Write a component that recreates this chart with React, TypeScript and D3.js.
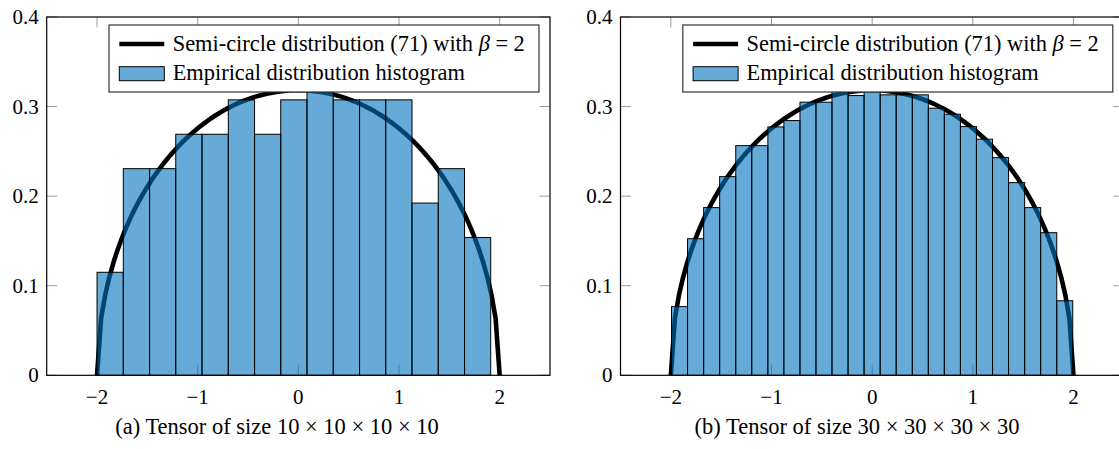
import React from "react";
import * as d3 from "d3";

// ---------- data ----------
const xTicks = [-2, -1, 0, 1, 2];
const yTicks = [0, 0.1, 0.2, 0.3, 0.4];

// left panel (10x10x10x10): 15 bins
const leftBinEdges = [-2.0, -1.739, -1.478, -1.218, -0.957, -0.696, -0.435, -0.175, 0.086, 0.347, 0.608, 0.868, 1.129, 1.39, 1.651, 1.911];
const leftHeights = [0.115, 0.2307, 0.2307, 0.2691, 0.2691, 0.3075, 0.2691, 0.3075, 0.346, 0.3075, 0.3075, 0.3075, 0.1923, 0.2307, 0.1538];

// right panel (30x30x30x30): 25 bins
const rightBinEdges = [-1.993, -1.834, -1.674, -1.515, -1.355, -1.196, -1.036, -0.877, -0.717, -0.558, -0.399, -0.239, -0.08, 0.08, 0.239, 0.399, 0.558, 0.717, 0.877, 1.036, 1.196, 1.355, 1.515, 1.674, 1.834, 1.993];
const rightHeights = [0.0767, 0.1525, 0.1872, 0.2218, 0.2564, 0.2564, 0.2773, 0.2844, 0.3049, 0.3049, 0.318, 0.3123, 0.318, 0.3131, 0.3131, 0.3131, 0.2982, 0.2915, 0.2777, 0.2636, 0.243, 0.2151, 0.1872, 0.1592, 0.0832];

const legendLabels = ["Semi-circle distribution (71) with ", "Empirical distribution histogram"];
const captions = ["(a) Tensor of size 10 \u00d7 10 \u00d7 10 \u00d7 10", "(b) Tensor of size 30 \u00d7 30 \u00d7 30 \u00d7 30"];

// semicircle law with beta = 2, sampled at 100 points in [-2, 2]
const curveSamples = 100;
const semicircle = d3.range(curveSamples).map((i) => {
  const x = -2 + (4 * i) / (curveSamples - 1);
  return [x, Math.sqrt(Math.max(0, 4 - x * x)) / (2 * Math.PI)] as [number, number];
});

// ---------- layout ----------
const W = 1119;
const H = 449;
const TOP = 17;
const BOTTOM = 375.3;
const FONT = "Liberation Serif, Tinos, Times New Roman, Times, DejaVu Serif, serif";
const BAR_FILL = "#0072BD";

function Panel({ x0, x1, edges, heights, caption, captionX }: any) {
  const x = d3.scaleLinear().domain([-2.5, 2.5]).range([x0, x1]);
  const y = d3.scaleLinear().domain([0, 0.4]).range([BOTTOM, TOP]);
  const line = d3.line<[number, number]>().x((d) => x(d[0])).y((d) => y(d[1]));
  const tl = 10.5;
  const legX = x1 - 11 - 430;
  const legY = TOP + 8;
  return (
    <g>
      {xTicks.map((t) => (
        <g key={"xt" + t} stroke="#9a9a9a" strokeWidth={1}>
          <line x1={x(t)} x2={x(t)} y1={BOTTOM} y2={BOTTOM - tl} />
          <line x1={x(t)} x2={x(t)} y1={TOP} y2={TOP + tl} />
        </g>
      ))}
      {yTicks.map((t) => (
        <g key={"yt" + t} stroke="#9a9a9a" strokeWidth={1}>
          <line x1={x0} x2={x0 + tl} y1={y(t)} y2={y(t)} />
          <line x1={x1} x2={x1 - tl} y1={y(t)} y2={y(t)} />
        </g>
      ))}
      <path d={line(semicircle) || ""} fill="none" stroke="#000" strokeWidth={4.6} strokeLinejoin="round" />
      {heights.map((h: number, i: number) => (
        <rect
          key={i}
          x={x(edges[i])}
          y={y(h)}
          width={x(edges[i + 1]) - x(edges[i])}
          height={y(0) - y(h)}
          fill={BAR_FILL}
          fillOpacity={0.6}
          stroke="#000"
          strokeWidth={1}
        />
      ))}
      <rect x={x0} y={TOP} width={x1 - x0} height={BOTTOM - TOP} fill="none" stroke="#000" strokeWidth={1.2} />
      {xTicks.map((t) => (
        <text key={"xl" + t} x={x(t)} y={404} textAnchor="middle" fontFamily={FONT} fontSize={21}>
          {t < 0 ? "\u2212" + Math.abs(t) : String(t)}
        </text>
      ))}
      {yTicks.map((t) => (
        <text key={"yl" + t} x={x0 - 8} y={y(t) + 7} textAnchor="end" fontFamily={FONT} fontSize={21}>
          {t === 0 ? "0" : d3.format(".1f")(t)}
        </text>
      ))}
      <rect x={legX} y={legY} width={430} height={67} fill="#fff" stroke="#333" strokeWidth={1.2} />
      <line x1={legX + 10.3} x2={legX + 55.3} y1={legY + 19} y2={legY + 19} stroke="#000" strokeWidth={4.6} />
      <rect x={legX + 10.3} y={legY + 41.7} width={45} height={14} fill={BAR_FILL} fillOpacity={0.6} stroke="#000" strokeWidth={1} />
      <text x={legX + 63.7} y={legY + 26} fontFamily={FONT} fontSize={22.4}>
        {legendLabels[0]}
        <tspan fontStyle="italic">{"\u03b2"}</tspan>
        {" = 2"}
      </text>
      <text x={legX + 63.7} y={legY + 54.5} fontFamily={FONT} fontSize={22.4}>
        {legendLabels[1]}
      </text>
      <text x={captionX} y={434} textAnchor="middle" fontFamily={FONT} fontSize={22.5}>
        {caption}
      </text>
    </g>
  );
}

export default function App() {
  return (
    <svg width={W} height={H} style={{ position: "absolute", left: 0, top: 0, background: "#fff" }}>
      <rect width={W} height={H} fill="#fff" />
      <Panel x0={46.7} x1={550} edges={leftBinEdges} heights={leftHeights} caption={captions[0]} captionX={277} />
      <Panel x0={620.5} x1={1123.8} edges={rightBinEdges} heights={rightHeights} caption={captions[1]} captionX={857} />
    </svg>
  );
}
